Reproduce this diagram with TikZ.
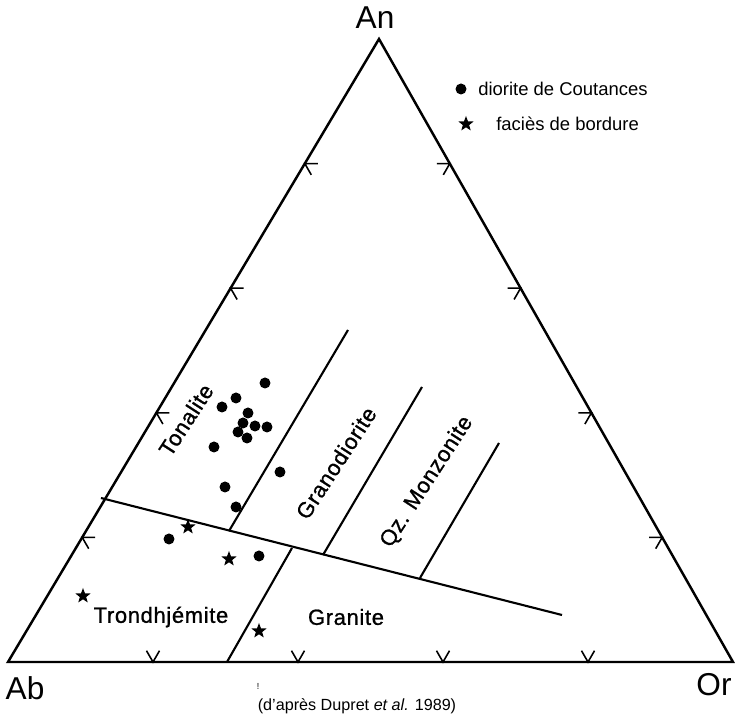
\documentclass[tikz,border=0pt]{standalone}
\usepackage{fontspec}
\setmainfont{Liberation Sans}
\newfontfamily\fieldfont[LetterSpace=3,FakeBold=1]{Liberation Sans}
\usetikzlibrary{calc,shapes.geometric}
\tikzset{
  side/.style={line width=1.4pt, line join=miter},
  field line/.style={line width=1.2pt},
  tick mark/.style={line width=0.9pt},
  diorite/.style={circle, fill, inner sep=0pt, minimum size=0.22cm},
  bordure/.style={star, star points=5, star point ratio=2.4, fill, inner sep=0pt, minimum size=0.32cm},
  field/.style={font=\fieldfont\fontsize{12.5}{14}\selectfont, inner sep=0pt},
  apex/.style={font=\fontsize{18}{20}\selectfont, inner sep=0pt},
  legend text/.style={anchor=west, inner sep=0pt, font=\fontsize{10.5}{12}\selectfont},
}

\begin{document}
\begin{tikzpicture}[x=0.02cm, y=0.02cm]
\useasboundingbox (0,0) rectangle (735,720);
% the triangle and its ticks
\coordinate (Ab) at (8,58);
\coordinate (Or) at (733,58);
\coordinate (An) at (379,681);
\draw[side] (Ab) -- (Or) -- (An) -- cycle;
\foreach \t in {0.2,0.4,0.6,0.8} {
  \draw[tick mark] ($(Ab)!\t!(Or)$) +(60:13) -- +(0,0) -- +(120:13);
  \draw[tick mark] ($(Ab)!\t!(An)$) +(0:13) -- +(0,0) -- +(300:13);
  \draw[tick mark] ($(Or)!\t!(An)$) +(180:13) -- +(0,0) -- +(240:13);
}
\node[apex] (an) at (375,702) {An};
\node[apex] (ab) at (25,32) {Ab};
\node[apex] (or) at (714,35) {Or};
% fields
\draw[field line] (101,222) -- (562,105);
\draw[field line] (227,58) -- (292,172);
\draw[field line] (229,189) -- (348,390);
\draw[field line] (323,165) -- (422,333);
\draw[field line] (420,142) -- (499,277);
\node[field, rotate=57] (ton) at (186,300) {Tonalite};
\node[field, rotate=57] (grd) at (336,257) {Granodiorite};
\node[field, rotate=57] (qzm) at (427,238) {Qz. Monzonite};
\node[field] (trd) at (161,103) {Trondhjémite};
\node[field] (gra) at (346,103) {Granite};
% samples
\foreach \x/\y [count=\i] in {265/383, 236/398, 222/407, 248/413, 243/423,
    255/426, 267/427, 238/432, 247/438, 214/447, 280/472, 225/487,
    236/507, 169/539, 259/556}
  \node[diorite] (d\i) at (\x,720-\y) {};
\foreach \x/\y [count=\i] in {188/527, 229/559, 83/596, 259/631}
  \node[bordure] (b\i) at (\x,720-\y) {};
% legend
\node[diorite] (ld) at (461,631) {};
\node[legend text] (ldt) at (478,631) {diorite de Coutances};
\node[bordure] (lb) at (466,596) {};
\node[legend text] (lbt) at (496,596) {faciès de bordure};
\node[inner sep=0pt, font=\fontsize{5}{6}\selectfont] (mk) at (258,34) {!};
\node[inner sep=0pt, font=\fontsize{9.2}{11}\selectfont] (src) at (357,14) {(d'après Dupret \textit{et al.} 1989)};
\end{tikzpicture}
\end{document}
